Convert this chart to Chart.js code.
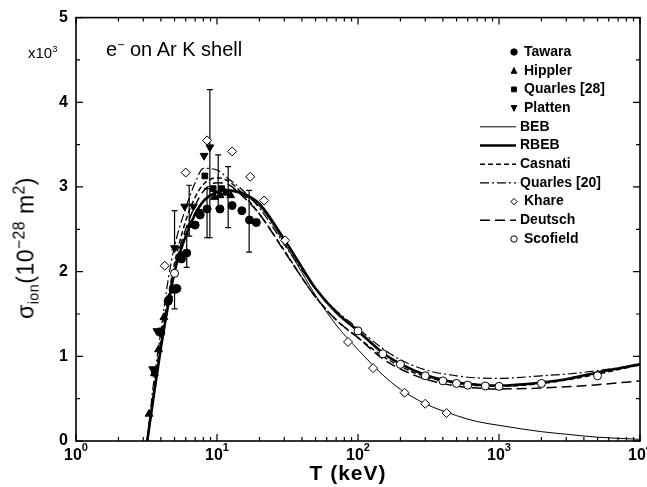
<!DOCTYPE html>
<html lang="en">
<head>
  <meta charset="UTF-8">
  <title>e- on Ar K shell</title>
  <script src="https://cdn.jsdelivr.net/npm/chart.js"></script>
  <style>
    body { margin: 0; background: #fff; }
    #wrap { position: relative; width: 647px; height: 487px; font-family: "Liberation Sans", Arial, sans-serif; color: #000; }
    #grafico { position: absolute; left: 0; top: 0; }
    .txt { position: absolute; white-space: nowrap; line-height: 1; }
    .sup { position: relative; font-size: 0.62em; top: -0.6em; }
    .sub { position: relative; font-size: 0.62em; top: 0.35em; }
    #titulo { left: 106px; top: 39px; font-size: 20px; }
    #escala { left: 28px; top: 45px; font-size: 15px; }
    #ytitle { left: 26px; top: 248px; font-size: 23px; letter-spacing: 0.5px; transform: translate(-50%, -50%) rotate(-90deg); }
    #ytitle .sup { font-size: 0.68em; }
    #xtitle { left: 348px; top: 462px; font-size: 21px; font-weight: bold; letter-spacing: 1px; transform: translateX(-50%); }
  </style>
</head>
<body>
  <div id="wrap">
    <canvas id="grafico" width="647" height="487"></canvas>
    <div class="txt" id="titulo">e<span class="sup">−</span> on Ar K shell</div>
    <div class="txt" id="escala">x10<span class="sup">3</span></div>
    <div class="txt" id="ytitle">σ<span class="sub">ion</span>(10<span class="sup">−28</span> m<span class="sup">2</span>)</div>
    <div class="txt" id="xtitle">T (keV)</div>
  </div>

  <script>
    // energies T (keV) used for the theory curves
    const tCurve = [3.2, 3.5, 4, 4.5, 5, 6, 7, 8, 10, 12, 15, 20, 30, 40, 50, 70, 100, 150, 200, 300, 500, 700, 1000, 2000, 3000, 5000, 10000];
    const beb      = [0, 0.45, 1.1, 1.6, 2.0, 2.42, 2.68, 2.83, 2.93, 2.95, 2.91, 2.77, 2.34, 1.99, 1.72, 1.37, 1.08, 0.78, 0.61, 0.44, 0.30, 0.23, 0.185, 0.11, 0.08, 0.045, 0.02];
    const rbeb     = [0, 0.45, 1.1, 1.6, 2.0, 2.42, 2.68, 2.83, 2.94, 2.96, 2.93, 2.80, 2.38, 2.05, 1.80, 1.52, 1.30, 1.04, 0.91, 0.78, 0.69, 0.665, 0.655, 0.69, 0.73, 0.81, 0.905];
    const casnati  = [0, 0.5, 1.2, 1.7, 2.1, 2.6, 2.88, 3.03, 3.11, 3.07, 2.93, 2.68, 2.25, 1.93, 1.70, 1.43, 1.22, 1.00, 0.88, 0.76, 0.68, 0.655, 0.645, 0.68, 0.72, 0.79, 0.90];
    const quarles20 = [0, 0.6, 1.3, 1.9, 2.3, 2.75, 3.05, 3.22, 3.2, 3.1, 2.97, 2.75, 2.32, 2.02, 1.80, 1.54, 1.33, 1.09, 0.96, 0.84, 0.77, 0.745, 0.74, 0.77, 0.79, 0.83, 0.905];
    const deutsch  = [0, 0.45, 1.15, 1.65, 2.05, 2.5, 2.78, 2.95, 3.05, 3.03, 2.9, 2.68, 2.24, 1.93, 1.70, 1.43, 1.22, 0.97, 0.85, 0.73, 0.65, 0.625, 0.615, 0.625, 0.64, 0.665, 0.71];

    // measurements
    const tawaraT = [4.0, 4.5, 5.2, 5.6, 6.1, 7.0, 7.6, 8.5, 10.5, 12.8, 15, 17, 19];
    const tawaraS = [1.28, 1.65, 1.80, 2.15, 2.22, 2.55, 2.67, 2.74, 2.74, 2.78, 2.72, 2.61, 2.58];
    const hipplerT = [3.3, 3.6, 3.85, 4.2, 6.5, 7.3, 9.6, 10.5, 11.5, 12.5];
    const hipplerS = [0.32, 0.8, 1.08, 1.46, 2.55, 2.7, 2.88, 2.9, 2.93, 2.9];
    const quarles28T = [3.6, 4.0, 4.6, 5.0, 5.6, 7.5, 8.2, 9.4, 10.8];
    const quarles28S = [0.8, 1.3, 1.68, 1.78, 2.2, 2.7, 3.13, 2.98, 2.98];
    const plattenT = [3.5, 3.75, 5.0, 5.9, 6.8, 8.1, 8.9];
    const plattenS = [0.85, 1.3, 2.28, 2.77, 2.77, 3.37, 3.47];
    const khareT = [4.26, 6.0, 8.5, 12.8, 17.2, 21.6, 30.4, 85, 128, 214, 300, 425];
    const khareS = [2.07, 3.17, 3.55, 3.42, 3.12, 2.84, 2.37, 1.17, 0.86, 0.57, 0.44, 0.33];
    const scofieldT = [5, 100, 150, 200, 300, 400, 500, 600, 800, 1000, 2000, 5000];
    const scofieldS = [1.98, 1.30, 1.03, 0.905, 0.77, 0.71, 0.68, 0.66, 0.65, 0.645, 0.68, 0.77];

    // error bars
    const errT  = [5.0, 5.0, 6.1, 6.35, 8.5, 8.9, 10.2, 12.0, 16.9];
    const errLo = [2.26, 1.56, 2.05, 2.42, 2.40, 2.40, 2.75, 2.52, 2.23];
    const errHi = [2.72, 1.84, 2.44, 3.02, 2.98, 4.15, 3.38, 3.24, 2.96];

    const yTicks = [0, 1, 2, 3, 4, 5];

    function pts(xs, ys) {
      return xs.map((x, i) => ({ x: x, y: ys[i] }));
    }

    function marca(label, xs, ys, estilo, radio, hueco, rot) {
      return {
        label: label, data: pts(xs, ys), showLine: false, order: 0,
        pointStyle: estilo, pointRadius: radio, pointRotation: rot || 0,
        pointBackgroundColor: hueco ? '#fff' : '#000', pointBorderColor: '#000', pointBorderWidth: 1
      };
    }

    function curva(label, ys, ancho, dash) {
      return {
        label: label, data: pts(tCurve, ys), showLine: true, order: 1, pointRadius: 0,
        borderColor: '#000', borderWidth: ancho, borderDash: dash, cubicInterpolationMode: 'monotone', fill: false
      };
    }

    function marcador(ctx, estilo, r, x, y, rot) {
      ctx.save();
      ctx.translate(x, y);
      ctx.rotate((rot || 0) * Math.PI / 180);
      ctx.beginPath();
      if (estilo === 'circle') {
        ctx.arc(0, 0, r, 0, Math.PI * 2);
      } else if (estilo === 'triangle') {
        ctx.moveTo(0, -r);
        ctx.lineTo(r * 0.87, r * 0.5 + 1);
        ctx.lineTo(-r * 0.87, r * 0.5 + 1);
        ctx.closePath();
      } else if (estilo === 'rect') {
        ctx.rect(-r * 0.75, -r * 0.75, r * 1.5, r * 1.5);
      } else if (estilo === 'rectRot') {
        ctx.moveTo(0, -r); ctx.lineTo(r, 0); ctx.lineTo(0, r); ctx.lineTo(-r, 0);
        ctx.closePath();
      }
      ctx.fill();
      ctx.stroke();
      ctx.restore();
    }

    // error bars, frame, inward ticks, x labels and legend
    const marco = {
      id: 'marco',
      beforeDatasetsDraw(chart) {
        const ctx = chart.ctx, x = chart.scales.x, y = chart.scales.y;
        ctx.save();
        ctx.strokeStyle = '#000';
        ctx.lineWidth = 1.2;
        errT.forEach((t, i) => {
          const px = x.getPixelForValue(t);
          const lo = y.getPixelForValue(errLo[i]), hi = y.getPixelForValue(errHi[i]);
          ctx.beginPath();
          ctx.moveTo(px, lo); ctx.lineTo(px, hi);
          ctx.moveTo(px - 3, lo); ctx.lineTo(px + 3, lo);
          ctx.moveTo(px - 3, hi); ctx.lineTo(px + 3, hi);
          ctx.stroke();
        });
        ctx.restore();
      },
      afterDraw(chart) {
        const ctx = chart.ctx, a = chart.chartArea, x = chart.scales.x, y = chart.scales.y;
        ctx.save();
        ctx.strokeStyle = '#000';
        ctx.fillStyle = '#000';
        ctx.lineWidth = 1.6;
        ctx.strokeRect(a.left, a.top, a.right - a.left, a.bottom - a.top);

        ctx.lineWidth = 1.2;
        ctx.beginPath();
        for (let d = 0; d <= 4; d++) {
          for (let m = 1; m <= 9; m++) {
            if (d === 4 && m > 1) break;
            const px = x.getPixelForValue(m * Math.pow(10, d));
            const len = m === 1 ? 7 : 4;
            ctx.moveTo(px, a.bottom); ctx.lineTo(px, a.bottom - len);
            ctx.moveTo(px, a.top); ctx.lineTo(px, a.top + len);
          }
        }
        for (let v = 0; v <= 5; v += 0.5) {
          const py = y.getPixelForValue(v);
          const len = v % 1 === 0 ? 7 : 4;
          ctx.moveTo(a.left, py); ctx.lineTo(a.left + len, py);
          ctx.moveTo(a.right, py); ctx.lineTo(a.right - len, py);
        }
        ctx.stroke();

        // x tick labels 10^n
        for (let d = 0; d <= 4; d++) {
          const px = x.getPixelForValue(Math.pow(10, d));
          ctx.font = 'bold 16px "Liberation Sans", Arial, sans-serif';
          const w1 = ctx.measureText('10').width;
          ctx.font = 'bold 11px "Liberation Sans", Arial, sans-serif';
          const w2 = ctx.measureText(String(d)).width;
          const x0 = px - (w1 + w2) / 2;
          ctx.textAlign = 'left';
          ctx.textBaseline = 'alphabetic';
          ctx.font = 'bold 16px "Liberation Sans", Arial, sans-serif';
          ctx.fillText('10', x0, 460);
          ctx.font = 'bold 11px "Liberation Sans", Arial, sans-serif';
          ctx.fillText(String(d), x0 + w1, 451);
        }

        // legend
        ctx.font = 'bold 14px "Liberation Sans", Arial, sans-serif';
        ctx.textBaseline = 'middle';
        chart.data.datasets.forEach((ds, i) => {
          const fy = 52 + i * 18.7;
          ctx.fillStyle = '#000';
          if (ds.showLine) {
            ctx.save();
            ctx.lineWidth = ds.borderWidth;
            ctx.setLineDash(ds.borderDash || []);
            ctx.beginPath();
            ctx.moveTo(480, fy); ctx.lineTo(516, fy);
            ctx.stroke();
            ctx.restore();
            ctx.fillText(ds.label, 520, fy);
          } else {
            ctx.save();
            ctx.lineWidth = 1;
            ctx.fillStyle = ds.pointBackgroundColor;
            marcador(ctx, ds.pointStyle, 3.2, 514, fy, ds.pointRotation);
            ctx.restore();
            ctx.fillText(ds.label, 524, fy);
          }
        });
        ctx.restore();
      }
    };

    const lienzo = document.querySelector('#grafico');
    new Chart(lienzo, {
      type: 'scatter',
      data: {
        datasets: [
          marca('Tawara', tawaraT, tawaraS, 'circle', 4, false),
          marca('Hippler', hipplerT, hipplerS, 'triangle', 4.5, false),
          marca('Quarles [28]', quarles28T, quarles28S, 'rect', 4, false),
          marca('Platten', plattenT, plattenS, 'triangle', 4.5, false, 180),
          curva('BEB', beb, 1, []),
          curva('RBEB', rbeb, 2.6, []),
          curva('Casnati', casnati, 1.5, [5, 3]),
          curva('Quarles [20]', quarles20, 1.2, [9, 3, 2, 3]),
          marca('Khare', khareT, khareS, 'rectRot', 4.5, true),
          curva('Deutsch', deutsch, 1.5, [10, 5]),
          marca('Scofield', scofieldT, scofieldS, 'circle', 4, true)
        ]
      },
      options: {
        responsive: false,
        animation: false,
        layout: { padding: { top: 12, right: 7, left: 0, bottom: 0 } },
        plugins: { legend: { display: false }, tooltip: { enabled: false } },
        scales: {
          x: {
            type: 'logarithmic', min: 1, max: 10000,
            grid: { display: false, drawTicks: false },
            border: { display: false },
            ticks: { display: false },
            afterFit: s => { s.height = 46; }
          },
          y: {
            type: 'linear', min: 0, max: 5,
            grid: { display: false, drawTicks: false },
            border: { display: false },
            afterBuildTicks: s => { s.ticks = yTicks.map(v => ({ value: v })); },
            ticks: { color: '#000', padding: 8, font: { size: 16, weight: 'bold', family: '"Liberation Sans", Arial, sans-serif' } },
            afterFit: s => { s.width = 76; }
          }
        }
      },
      plugins: [marco]
    });
  </script>
</body>
</html>
